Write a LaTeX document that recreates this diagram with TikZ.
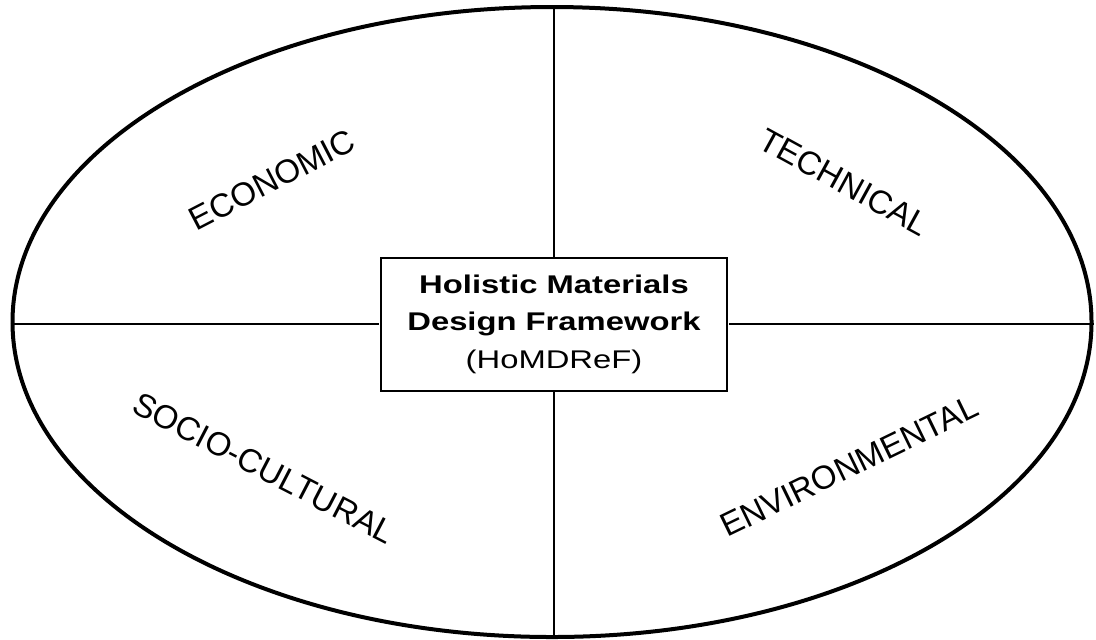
\documentclass[tikz,border=0pt]{standalone}
\usepackage{fontspec}
\setmainfont{Liberation Sans}
\usetikzlibrary{shapes,positioning}
\tikzstyle{rim} = [ellipse, draw, line width=2pt, minimum width=539.5pt,
    minimum height=315pt, inner sep=0pt]
\tikzstyle{hub} = [rectangle, draw, fill=white, line width=1pt, xscale=1.28,
    minimum width=135.5pt, minimum height=66.5pt, inner sep=0pt, align=center,
    font=\fontsize{12.8}{18.75}\selectfont]
\tikzstyle{aspect} = [inner sep=0pt, font=\fontsize{16.5}{19}\selectfont]
\tikzstyle{line} = [draw, line width=1pt]

\begin{document}
\begin{tikzpicture}[x=0.5pt, y=-0.5pt]
      \useasboundingbox (0,0) rectangle (1096,639);
      \node [rim] (oval) at (552,322) {};
      \node [hub] (frame) at (554,324) {\textbf{Holistic Materials}\\ \textbf{Design Framework}\\ (HoMDReF)};
      \node [aspect, rotate=27.4] (econ) at (272,180) {ECONOMIC};
      \node [aspect, rotate=-28.7] (tech) at (844,182) {TECHNICAL};
      \node [aspect, rotate=-27.4] (socio) at (264,468) {SOCIO-CULTURAL};
      \node [aspect, rotate=25.9] (env) at (849,466) {ENVIRONMENTAL};
      % Draw dividers
      \path [line] (oval.north -| frame) -- (frame.north);
      \path [line] (oval.south -| frame) -- (frame.south);
      \path [line] (oval.west |- frame) -- (frame.west);
      \path [line] (oval.east |- frame) -- (frame.east);
\end{tikzpicture}
\end{document}
